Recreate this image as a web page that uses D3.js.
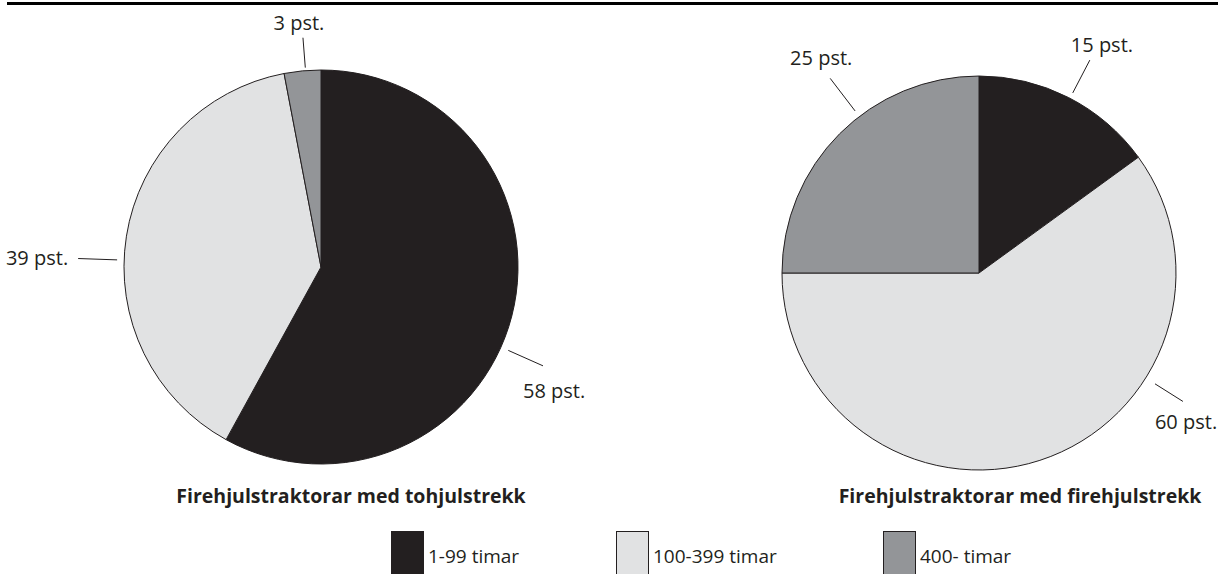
<!DOCTYPE html>
<html>
<head>
<meta charset="utf-8">
<script src="https://cdn.jsdelivr.net/npm/d3@7"></script>
<style>
  html, body { margin: 0; padding: 0; background: #fff; }
  svg { display: block; }
  text { font-family: "Open Sans", "Noto Sans", sans-serif; fill: #231f20; }
</style>
</head>
<body>
<svg id="chart" width="1218" height="574"></svg>
<script>
// ---- Data ----
const categories = ["1-99 timar", "100-399 timar", "400- timar"];
const colors = ["#231f20", "#e1e2e3", "#939598"];
const titles = ["Firehjulstraktorar med tohjulstrekk", "Firehjulstraktorar med firehjulstrekk"];
const valuesTohjul = [58, 39, 3];
const valuesFirehjul = [15, 60, 25];
const labelSuffix = " pst.";

// ---- Layout (positions only) ----
const W = 1218, H = 574;
const radius = 197;
const pies = [
  { values: valuesTohjul, cx: 321, cy: 267, title: titles[0], titleX: 351,
    labels: [
      { ang: 114, r1: 205, r2: 243, dx: -20, dy: 32, anchor: "start" },
      { ang: -88, r1: 204, r2: 243, dx: -10, dy: 6, anchor: "end" },
      { ang: -4.5, r1: 200, r2: 230, dx: -4, dy: -8, anchor: "middle" }
    ] },
  { values: valuesFirehjul, cx: 979, cy: 273, title: titles[1], titleX: 1020,
    labels: [
      { ang: 27.5, r1: 203, r2: 240, dx: -19, dy: -8, anchor: "start" },
      { ang: 122.2, r1: 208, r2: 241, dx: -28, dy: 28, anchor: "start" },
      { ang: -37.4, r1: 204, r2: 245, dx: -9, dy: -13, anchor: "middle" }
    ] }
];

const svg = d3.select("#chart");

// top rule
svg.append("line")
  .attr("x1", 7).attr("x2", W).attr("y1", 3.5).attr("y2", 3.5)
  .attr("stroke", "#000").attr("stroke-width", 3);

const color = d3.scaleOrdinal().domain(categories).range(colors);
const pieGen = d3.pie().sort(null).value(d => d.v).startAngle(0).endAngle(2 * Math.PI);
const arcGen = d3.arc().innerRadius(0).outerRadius(radius);

pies.forEach(p => {
  const data = p.values.map((v, i) => ({ cat: categories[i], v }));
  const g = svg.append("g").attr("transform", `translate(${p.cx},${p.cy})`);
  g.selectAll("path.slice")
    .data(pieGen(data))
    .join("path")
    .attr("class", "slice")
    .attr("d", arcGen)
    .attr("fill", d => color(d.data.cat))
    .attr("stroke", "#231f20")
    .attr("stroke-width", 1)
    .attr("stroke-linejoin", "round");

  data.forEach((d, i) => {
    const L = p.labels[i];
    const a = L.ang * Math.PI / 180;
    const x1 = Math.sin(a) * L.r1, y1 = -Math.cos(a) * L.r1;
    const x2 = Math.sin(a) * L.r2, y2 = -Math.cos(a) * L.r2;
    g.append("line")
      .attr("x1", x1).attr("y1", y1).attr("x2", x2).attr("y2", y2)
      .attr("stroke", "#231f20").attr("stroke-width", 1);
    g.append("text")
      .attr("x", x2 + L.dx).attr("y", y2 + L.dy)
      .attr("text-anchor", L.anchor)
      .style("font-size", "20px")
      .text(d.v + labelSuffix);
  });

  svg.append("text")
    .attr("x", p.titleX).attr("y", 503)
    .attr("text-anchor", "middle")
    .style("font-size", "19.5px").style("font-weight", "bold")
    .text(p.title);
});

// legend
const legendX = [391, 616, 883];
const leg = svg.append("g");
categories.forEach((c, i) => {
  leg.append("rect")
    .attr("x", legendX[i] + 0.5).attr("y", 531.5)
    .attr("width", 32).attr("height", 50)
    .attr("fill", color(c)).attr("stroke", "#231f20").attr("stroke-width", 1);
  leg.append("text")
    .attr("x", legendX[i] + 37).attr("y", 563)
    .style("font-size", "19px")
    .text(c);
});
</script>
</body>
</html>
